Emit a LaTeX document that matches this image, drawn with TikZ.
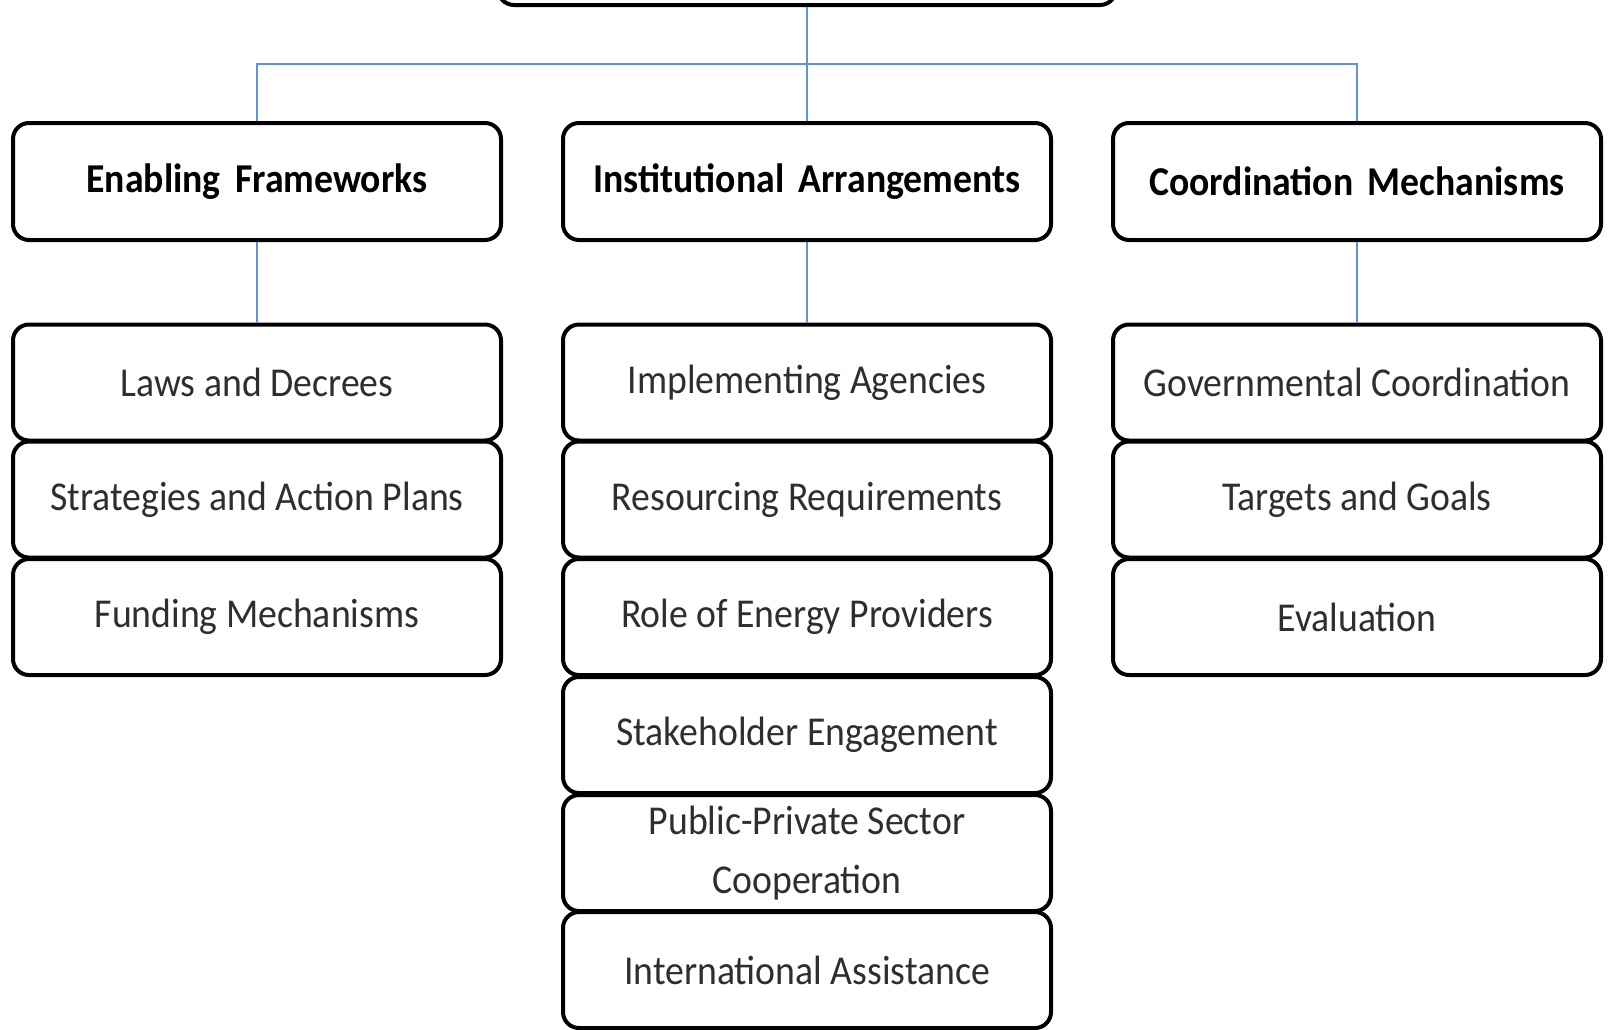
\documentclass[tikz,border=0pt]{standalone}
\usepackage{fontspec}
\setmainfont{Carlito}
\newfontfamily\itemfont[FakeStretch=0.92]{Carlito}
\newfontfamily\hdrfont[FakeStretch=0.92]{Carlito}
\definecolor{connblue}{RGB}{96,146,214}
\newcommand{\wsp}{\hspace{0.35em}}
\begin{document}
\begin{tikzpicture}[x=1pt,y=-1pt,
  box/.style={draw=black,line width=4pt,rounded corners=16pt,minimum width=488pt,inner sep=0pt,align=center},
  hdr/.style={box,minimum height=117pt,font=\hdrfont\bfseries\fontsize{41}{48}\selectfont,text=black},
  item/.style={box,minimum height=116pt,font=\itemfont\fontsize{41}{59}\selectfont,text=black!82},
  conn/.style={draw=connblue,line width=1.6pt}]
\useasboundingbox (0,0) rectangle (1612,1029);
\fill[white] (0,0) rectangle (1612,1029);
\node[box,minimum width=618pt,minimum height=100pt] (top) at (807,-45) {};
\node[hdr] (ef) at (257,181.5) {Enabling\wsp Frameworks};
\node[hdr] (ia) at (807,181.5) {Institutional\wsp Arrangements};
\node[hdr] (cm) at (1357,181.5) {Coordination\wsp Mechanisms};
\node[item] (ef1) at (257,382.5) {Laws and Decrees};
\node[item] (ef2) at (257,499.5) {Strategies and Action Plans};
\node[item] (ef3) at (257,617) {Funding Mechanisms};
\node[item] (ia1) at (807,382.5) {Implementing Agencies};
\node[item] (ia2) at (807,499.5) {Resourcing Requirements};
\node[item] (ia3) at (807,617) {Role of Energy Providers};
\node[item] (ia4) at (807,735) {Stakeholder Engagement};
\node[item] (ia5) at (807,853) {Public-Private Sector\\Cooperation};
\node[item] (ia6) at (807,970) {International Assistance};
\node[item] (cm1) at (1357,382.5) {Governmental Coordination};
\node[item] (cm2) at (1357,499.5) {Targets and Goals};
\node[item] (cm3) at (1357,617) {Evaluation};
\coordinate (bus) at (807,64);
\draw[conn] (top.south) -- (ia.north);
\draw[conn] (ef.north) |- (bus) -| (cm.north);
\draw[conn] (ef.south) -- (ef1.north);
\draw[conn] (ia.south) -- (ia1.north);
\draw[conn] (cm.south) -- (cm1.north);
\end{tikzpicture}
\end{document}
